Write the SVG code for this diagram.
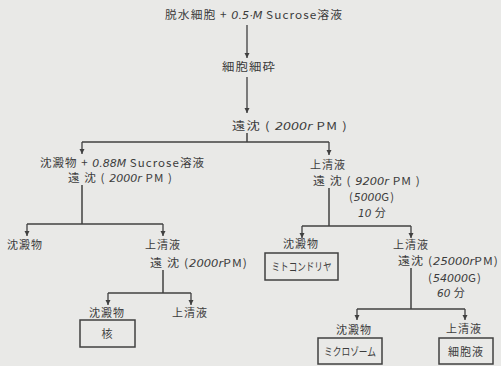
<svg xmlns="http://www.w3.org/2000/svg" width="501" height="366" viewBox="0 0 501 366">
<style>
text{font-family:"Noto Sans CJK JP","Noto Sans",sans-serif;font-size:11px;fill:#3c3c3c;letter-spacing:1px}
.i{font-style:italic;font-family:"DejaVu Sans","Noto Sans",sans-serif;font-size:10.5px;letter-spacing:0}
.c{text-anchor:middle}
.ln{stroke:#404040;stroke-width:1.5;fill:none}
.ar{stroke:#404040;stroke-width:1.3;fill:none;marker-end:url(#a)}
.bx{fill:none;stroke:#404040;stroke-width:1.5}
</style>
<defs>
<marker id="a" markerUnits="userSpaceOnUse" markerWidth="6" markerHeight="6" refX="5" refY="3" orient="auto">
<path d="M0,0.5 L5,3 L0,5.5 z" fill="#404040"/>
</marker>
</defs>
<rect width="501" height="366" fill="#e9e9e7"/>
<g id="connectors">
<line class="ar" x1="247" y1="25" x2="247" y2="58"/>
<line class="ar" x1="247" y1="77" x2="247" y2="113"/>
<line class="ln" x1="247" y1="133" x2="247" y2="142"/>
<line class="ln" x1="82" y1="142" x2="329" y2="142"/>
<line class="ar" x1="82" y1="142" x2="82" y2="154"/>
<line class="ar" x1="329" y1="142" x2="329" y2="155"/>
<line class="ln" x1="82" y1="185" x2="82" y2="224"/>
<line class="ln" x1="27" y1="224" x2="163" y2="224"/>
<line class="ar" x1="27" y1="224" x2="27" y2="236"/>
<line class="ar" x1="163" y1="224" x2="163" y2="236"/>
<line class="ln" x1="163" y1="270" x2="163" y2="293"/>
<line class="ln" x1="108" y1="293" x2="191" y2="293"/>
<line class="ar" x1="108" y1="293" x2="108" y2="305"/>
<line class="ar" x1="191" y1="293" x2="191" y2="305"/>
<line class="ln" x1="329" y1="188" x2="329" y2="226"/>
<line class="ln" x1="302" y1="226" x2="411" y2="226"/>
<line class="ar" x1="302" y1="226" x2="302" y2="238"/>
<line class="ar" x1="411" y1="226" x2="411" y2="238"/>
<line class="ln" x1="411" y1="268" x2="411" y2="309"/>
<line class="ln" x1="357" y1="309" x2="465" y2="309"/>
<line class="ar" x1="357" y1="309" x2="357" y2="320"/>
<line class="ar" x1="465" y1="309" x2="465" y2="320"/>
</g>
<g id="start"><text x="165" y="19" textLength="178" lengthAdjust="spacingAndGlyphs">脱水細胞 + <tspan class="i">0.5·M</tspan> Sucrose溶液</text></g>
<g id="crush"><text x="222" y="71" textLength="54" lengthAdjust="spacingAndGlyphs">細胞細砕</text></g>
<g id="spin1"><text x="232" y="130" textLength="116" lengthAdjust="spacingAndGlyphs">遠沈 ( <tspan class="i">2000r</tspan> PM )</text></g>
<g id="left1"><text x="40" y="167" textLength="165" lengthAdjust="spacingAndGlyphs">沈澱物 + <tspan class="i">0.88M</tspan> Sucrose溶液</text>
<text x="68" y="182" textLength="105" lengthAdjust="spacingAndGlyphs">遠 沈 ( <tspan class="i">2000r</tspan> PM )</text></g>
<g id="left-ppt"><text x="7" y="249">沈澱物</text></g>
<g id="left-sup"><text x="145" y="249">上清液</text>
<text x="150" y="267" textLength="98" lengthAdjust="spacingAndGlyphs">遠 沈 (<tspan class="i">2000r</tspan>PM)</text></g>
<g id="nucleus"><text x="89" y="317">沈澱物</text>
<rect class="bx" x="80" y="320" width="55" height="27"/>
<text class="c" x="107.5" y="338">核</text></g>
<g id="left-sup2"><text x="172" y="317">上清液</text></g>
<g id="right1"><text x="310" y="169">上清液</text>
<text x="313" y="185" textLength="108" lengthAdjust="spacingAndGlyphs">遠 沈 ( <tspan class="i">9200r</tspan> PM )</text>
<text x="349" y="201" textLength="46" lengthAdjust="spacingAndGlyphs">(<tspan class="i">5000</tspan>G)</text>
<text x="358" y="217"><tspan class="i">10</tspan> 分</text></g>
<g id="mito"><text x="283" y="248">沈澱物</text>
<rect class="bx" x="265" y="253" width="73" height="27"/>
<text class="c" x="301.5" y="271" textLength="60" lengthAdjust="spacingAndGlyphs" style="letter-spacing:0">ミトコンドリヤ</text></g>
<g id="right2"><text x="393" y="249">上清液</text>
<text x="398" y="265" textLength="101" lengthAdjust="spacingAndGlyphs">遠沈 (<tspan class="i">25000r</tspan>PM)</text>
<text x="428" y="282" textLength="54" lengthAdjust="spacingAndGlyphs">(<tspan class="i">54000</tspan>G)</text>
<text x="437" y="297"><tspan class="i">60</tspan> 分</text></g>
<g id="micro"><text x="336" y="334">沈澱物</text>
<rect class="bx" x="318" y="338" width="64" height="26"/>
<text class="c" x="350" y="356" textLength="52" lengthAdjust="spacingAndGlyphs" style="letter-spacing:0">ミクロゾーム</text></g>
<g id="cytosol"><text x="446" y="333">上清液</text>
<rect class="bx" x="439" y="338" width="54" height="26"/>
<text class="c" x="466" y="356">細胞液</text></g>
</svg>
